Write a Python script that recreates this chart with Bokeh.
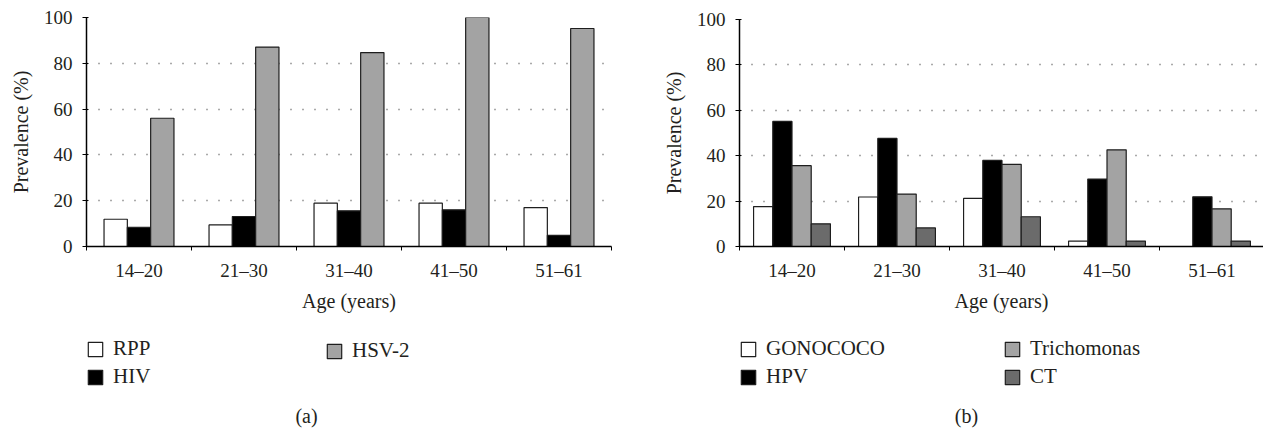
from bokeh.plotting import figure
from bokeh.models import Range1d, FixedTicker, Legend, LegendItem, Label, ColumnDataSource
from bokeh.layouts import row, column
from bokeh.transform import dodge
from bokeh.embed import file_html
from bokeh.resources import INLINE

# ---- data ----
ages = ["14–20", "21–30", "31–40", "41–50", "51–61"]

rpp = [11.9, 9.4, 18.9, 18.9, 17.0]
hiv = [8.4, 13.1, 15.6, 16.0, 4.9]
hsv2 = [56.0, 87.1, 84.7, 100.0, 95.2]

gonococo = [17.6, 21.8, 21.2, 2.4, 0.0]
hpv = [55.1, 47.6, 37.9, 29.7, 21.9]
trichomonas = [35.6, 23.1, 36.2, 42.6, 16.6]
ct = [10.0, 8.2, 13.1, 2.4, 2.4]

names_a = ["RPP", "HIV", "HSV-2"]
names_b = ["GONOCOCO", "HPV", "Trichomonas", "CT"]

FONT = "Liberation Serif"
TXT = "#231f20"
CHART_H = 316
LEG_H = 112


def add_bars(p, src, names, colors, bar_w):
    k = len(names)
    rs = []
    for j, (n, c) in enumerate(zip(names, colors)):
        off = (j - (k - 1) / 2) * bar_w
        r = p.vbar(x=dodge("x", off, range=p.x_range), top=n, width=bar_w, source=src,
                   fill_color=c, line_color="#1e1e1e", line_width=1.2)
        rs.append(r)
    return rs


def make_panel(series, names, colors, bar_w, width, border_left, border_right,
               border_top, frame_h, xend, legend_cols, caption, caption_x):
    centers = [i + 0.5 for i in range(len(ages))]
    data = {"x": centers}
    for n, s in zip(names, series):
        data[n] = s
    src = ColumnDataSource(data)

    p = figure(width=width, height=CHART_H, x_range=Range1d(0, xend), y_range=Range1d(0, 100),
               output_backend="svg", toolbar_location=None,
               min_border_left=border_left, min_border_right=border_right,
               min_border_top=border_top, min_border_bottom=CHART_H - border_top - frame_h)
    p.outline_line_color = None
    add_bars(p, src, names, colors, bar_w)

    xa = p.xaxis[0]
    xa.ticker = FixedTicker(ticks=centers, minor_ticks=list(range(len(ages) + 1)))
    xa.major_label_overrides = {c: a for c, a in zip(centers, ages)}
    xa.major_tick_line_color = None
    xa.major_tick_out = 0
    xa.major_tick_in = 0
    xa.minor_tick_out = 4
    xa.minor_tick_in = 0
    xa.minor_tick_line_color = "black"
    xa.axis_line_color = "black"
    xa.axis_line_width = 1.5
    xa.major_label_text_font = FONT
    xa.major_label_text_font_size = "19px"
    xa.major_label_text_color = TXT
    xa.major_label_standoff = 9
    xa.axis_label = "Age (years)"
    xa.axis_label_text_font = FONT
    xa.axis_label_text_font_size = "20px"
    xa.axis_label_text_font_style = "normal"
    xa.axis_label_text_color = TXT
    xa.axis_label_standoff = 6

    ya = p.yaxis[0]
    ya.ticker = FixedTicker(ticks=[0, 20, 40, 60, 80, 100])
    ya.major_tick_out = 4
    ya.major_tick_in = 2
    ya.major_tick_line_color = "black"
    ya.minor_tick_line_color = None
    ya.axis_line_color = "black"
    ya.axis_line_width = 1.5
    ya.major_label_text_font = FONT
    ya.major_label_text_font_size = "19px"
    ya.major_label_text_color = TXT
    ya.major_label_standoff = 10
    ya.axis_label = "Prevalence (%)"
    ya.axis_label_text_font = FONT
    ya.axis_label_text_font_size = "20px"
    ya.axis_label_text_font_style = "normal"
    ya.axis_label_text_color = TXT
    ya.axis_label_standoff = 9

    p.xgrid.visible = False
    p.ygrid.ticker = FixedTicker(ticks=[20, 40, 60, 80, 100])
    p.ygrid.grid_line_color = "#555555"
    p.ygrid.grid_line_dash = "1 11"
    p.ygrid.grid_line_width = 1.3

    # legend strip below the chart (bars here lie outside its y-range, only the key shows)
    lp = figure(width=width, height=LEG_H, x_range=Range1d(0, xend), y_range=Range1d(1000, 1001),
                output_backend="svg", toolbar_location=None,
                x_axis_type=None, y_axis_type=None,
                min_border_left=0, min_border_right=0, min_border_top=0, min_border_bottom=0)
    lp.outline_line_color = None
    lp.grid.visible = False
    lrs = add_bars(lp, src, names, colors, bar_w)

    for (vx, vy, idxs) in legend_cols:
        items = [LegendItem(label=names[i], renderers=[lrs[i]]) for i in idxs]
        leg = Legend(items=items, location=(vx, vy), orientation="vertical",
                     padding=0, margin=0, spacing=3, glyph_width=18, glyph_height=18,
                     label_standoff=9, label_height=20,
                     label_text_font=FONT, label_text_font_size="21px",
                     label_text_color=TXT, border_line_color=None,
                     background_fill_alpha=0)
        lp.add_layout(leg)

    lp.add_layout(Label(x=caption_x, y=13, x_units="screen", y_units="screen",
                        text=caption, text_align="center", text_baseline="middle",
                        text_font=FONT, text_font_size="20px", text_color=TXT))
    return column(p, lp, spacing=0)


pa = make_panel([rpp, hiv, hsv2], names_a, ["white", "black", "#a3a3a3"],
                bar_w=0.222, width=648, border_left=86, border_right=37,
                border_top=17, frame_h=229, xend=5,
                legend_cols=[(0, 39, [0, 1]), (239, 65, [2])],
                caption="(a)", caption_x=220)

pb = make_panel([gonococo, hpv, trichomonas, ct], names_b,
                ["white", "black", "#a3a3a3", "#6b6b6b"],
                bar_w=0.183, width=615, border_left=91, border_right=0,
                border_top=19, frame_h=227, xend=524 / 105,
                legend_cols=[(0, 39, [0, 1]), (264, 39, [2, 3])],
                caption="(b)", caption_x=227)

layout = row(pa, pb, spacing=0)
open("out.html", "w").write(file_html(layout, INLINE))
